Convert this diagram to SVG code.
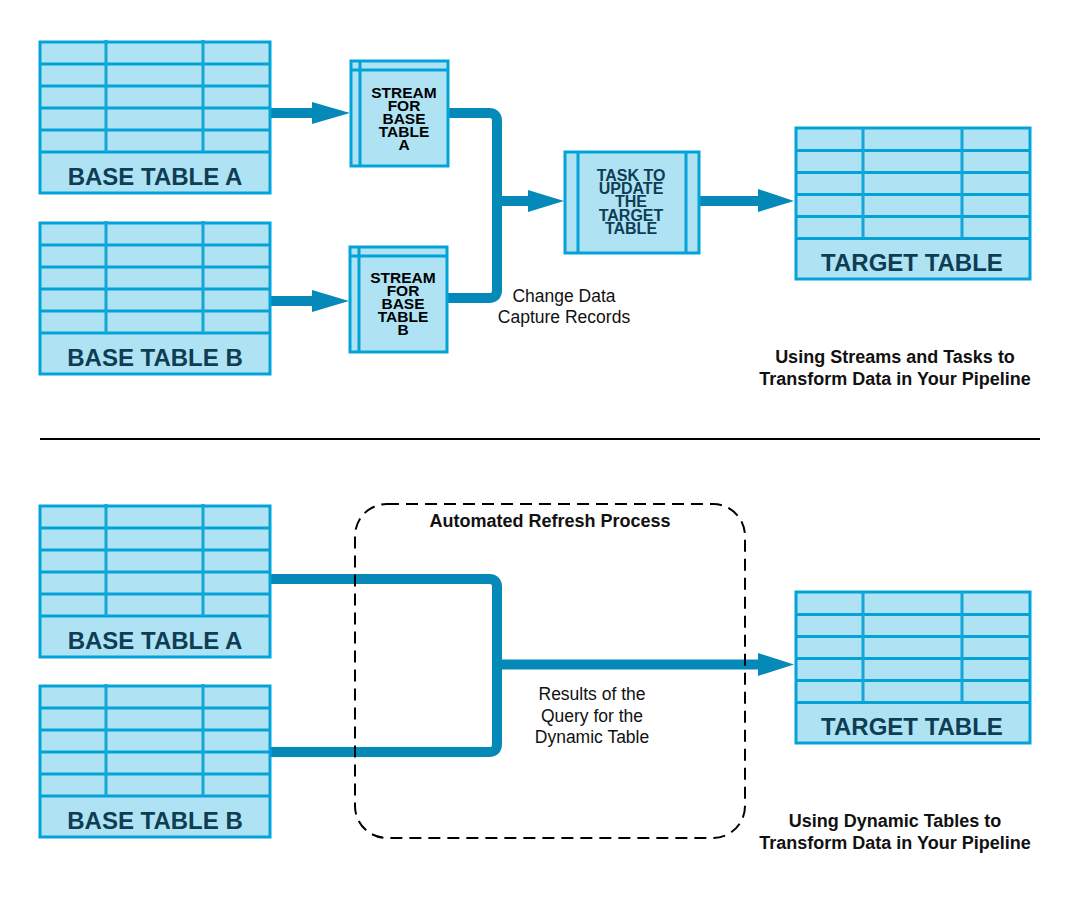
<svg xmlns="http://www.w3.org/2000/svg" width="1080" height="904" viewBox="0 0 1080 904">
<style>
.tb{fill:#afe3f4;stroke:#03a3d9;stroke-width:3}
.ln{stroke:#03a3d9;stroke-width:3;fill:none}
.cl{stroke:#14a6d6;stroke-width:3;fill:none}
.tl{font-family:"Liberation Sans",Arial,sans-serif;font-weight:bold;font-size:24px;fill:#0e3d55;text-anchor:middle}
.st{font-family:"Liberation Sans",Arial,sans-serif;font-weight:bold;font-size:15.5px;fill:#000;text-anchor:middle}
.tk{font-family:"Liberation Sans",Arial,sans-serif;font-weight:bold;font-size:16px;fill:#0e3d55;text-anchor:middle}
.lb{font-family:"Liberation Sans",Arial,sans-serif;font-size:17.5px;fill:#111;text-anchor:middle}
.ti{font-family:"Liberation Sans",Arial,sans-serif;font-weight:bold;font-size:18px;fill:#111;text-anchor:middle}
.cn{stroke:#0589b9;stroke-width:10;fill:none}
.ah{fill:#0589b9}
</style>

<g id="connectors">
  <path class="cn" d="M271,113 H318"/>
  <polygon class="ah" points="312,102 350,113 312,124"/>
  <path class="cn" d="M271,301 H318"/>
  <polygon class="ah" points="312,290 349,301 312,312"/>
  <path class="cn" d="M448,113 H489 Q497,113 497,121 V201"/>
  <path class="cn" d="M447,298 H489 Q497,298 497,290 V201"/>
  <path class="cn" d="M497,201 H532"/>
  <polygon class="ah" points="528,190 564,201 528,212"/>
  <path class="cn" d="M699,201 H762"/>
  <polygon class="ah" points="758,189 794,201 758,212"/>
  <path class="cn" d="M271,579 H489 Q497,579 497,587 V664"/>
  <path class="cn" d="M271,752 H489 Q497,752 497,744 V664"/>
  <path class="cn" d="M497,664.5 H762"/>
  <polygon class="ah" points="758,653 794,664.5 758,676"/>
</g>

<g id="base-table-a-top">
  <rect class="tb" x="40" y="42" width="230" height="151"/>
  <path class="ln" d="M40,64 H270 M40,86 H270 M40,108 H270 M40,130 H270 M40,152 H270"/>
  <path class="cl" d="M106,40 V152 M203,40 V152"/>
  <text class="tl" x="155" y="184.5">BASE TABLE A</text>
</g>

<g id="base-table-b-top">
  <rect class="tb" x="40" y="223" width="230" height="151"/>
  <path class="ln" d="M40,245 H270 M40,267 H270 M40,289 H270 M40,311 H270 M40,333 H270"/>
  <path class="cl" d="M106,221 V333 M203,221 V333"/>
  <text class="tl" x="155" y="365.5">BASE TABLE B</text>
</g>

<g id="stream-a">
  <rect class="tb" x="351" y="61" width="97" height="105"/>
  <path class="ln" d="M360,61 V166 M351,70 H448"/>
  <text class="st" x="404" y="98">STREAM</text>
  <text class="st" x="404" y="111">FOR</text>
  <text class="st" x="404" y="124">BASE</text>
  <text class="st" x="404" y="137">TABLE</text>
  <text class="st" x="404" y="150">A</text>
</g>

<g id="stream-b">
  <rect class="tb" x="350" y="247" width="97" height="105"/>
  <path class="ln" d="M359,247 V352 M350,256 H447"/>
  <text class="st" x="403" y="283">STREAM</text>
  <text class="st" x="403" y="296">FOR</text>
  <text class="st" x="403" y="309">BASE</text>
  <text class="st" x="403" y="322">TABLE</text>
  <text class="st" x="403" y="335">B</text>
</g>

<g id="task">
  <rect class="tb" x="565" y="152" width="134" height="101"/>
  <path class="ln" d="M578,152 V253 M686,152 V253"/>
  <text class="tk" x="631" y="181">TASK TO</text>
  <text class="tk" x="631" y="194">UPDATE</text>
  <text class="tk" x="631" y="207">THE</text>
  <text class="tk" x="631" y="220.5">TARGET</text>
  <text class="tk" x="631" y="234">TABLE</text>
</g>

<g id="target-table-top">
  <rect class="tb" x="796" y="128" width="234" height="151"/>
  <path class="ln" d="M796,150.5 H1030 M796,172.5 H1030 M796,194.5 H1030 M796,216.5 H1030 M796,238.5 H1030"/>
  <path class="cl" d="M863,128 V238 M962,128 V238"/>
  <text class="tl" x="912" y="270.5">TARGET TABLE</text>
</g>

<g id="label-cdc">
  <text class="lb" x="564" y="301.5">Change Data</text>
  <text class="lb" x="564" y="323">Capture Records</text>
</g>

<g id="title-top">
  <text class="ti" x="895" y="362.5">Using Streams and Tasks to</text>
  <text class="ti" x="895" y="384.5">Transform Data in Your Pipeline</text>
</g>

<line x1="40" y1="439" x2="1040" y2="439" stroke="#000" stroke-width="2"/>

<g id="refresh-process">
  <rect x="355" y="504" width="390" height="334" rx="32" ry="32" fill="none" stroke="#000" stroke-width="2" stroke-dasharray="12 7"/>
  <text class="ti" x="550" y="527">Automated Refresh Process</text>
</g>

<g id="base-table-a-bottom">
  <rect class="tb" x="40" y="506" width="230" height="151"/>
  <path class="ln" d="M40,528 H270 M40,550 H270 M40,572 H270 M40,594 H270 M40,616 H270"/>
  <path class="cl" d="M106,504 V616 M203,504 V616"/>
  <text class="tl" x="155" y="648.5">BASE TABLE A</text>
</g>

<g id="base-table-b-bottom">
  <rect class="tb" x="40" y="686" width="230" height="151"/>
  <path class="ln" d="M40,708 H270 M40,730 H270 M40,752 H270 M40,774 H270 M40,796 H270"/>
  <path class="cl" d="M106,684 V796 M203,684 V796"/>
  <text class="tl" x="155" y="828.5">BASE TABLE B</text>
</g>

<g id="target-table-bottom">
  <rect class="tb" x="796" y="592" width="234" height="151"/>
  <path class="ln" d="M796,614.5 H1030 M796,636.5 H1030 M796,658.5 H1030 M796,680.5 H1030 M796,702.5 H1030"/>
  <path class="cl" d="M863,592 V702 M962,592 V702"/>
  <text class="tl" x="912" y="734.5">TARGET TABLE</text>
</g>

<g id="label-results">
  <text class="lb" x="592" y="700">Results of the</text>
  <text class="lb" x="592" y="721.5">Query for the</text>
  <text class="lb" x="592" y="743">Dynamic Table</text>
</g>

<g id="title-bottom">
  <text class="ti" x="895" y="826.5">Using Dynamic Tables to</text>
  <text class="ti" x="895" y="848.5">Transform Data in Your Pipeline</text>
</g>
</svg>
